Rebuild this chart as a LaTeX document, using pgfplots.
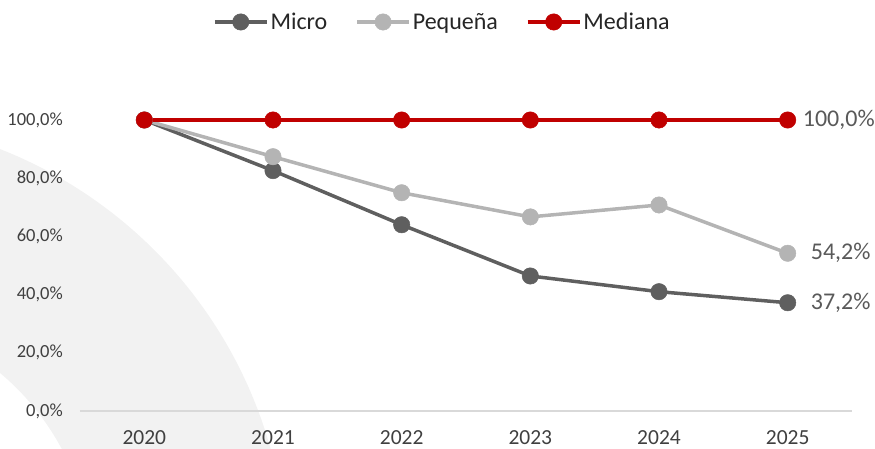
\documentclass[border=0pt]{standalone}
\usepackage{fontspec}
\setmainfont{Carlito}
\usepackage{pgfplots}
\pgfplotsset{compat=1.18}
\definecolor{cmicro}{HTML}{5F5F5F}
\definecolor{cpeq}{HTML}{B4B4B4}
\definecolor{cmed}{HTML}{C00000}
\definecolor{cband}{HTML}{F2F2F2}
\definecolor{caxis}{HTML}{D9D9D9}
\definecolor{ctick}{HTML}{404040}
\definecolor{clab}{HTML}{595959}
\begin{document}
\begin{tikzpicture}[x=1pt,y=1pt]
\useasboundingbox (0,0) rectangle (875,449);
\begin{scope}
\clip (0,0) rectangle (875,449);
\fill[cband,even odd rule] (-165,-121) circle (452) (-165,-121) circle (257);
\end{scope}
\begin{axis}[
  at={(80pt,38pt)}, anchor=south west,
  scale only axis, width=772pt, height=291pt,
  xmin=-0.5, xmax=5.5, ymin=0, ymax=100,
  clip=false,
  axis y line*=left, axis x line*=bottom,
  y axis line style={draw=none},
  x axis line style={draw=caxis, line width=1.5pt},
  major tick length=0pt,
  xtick={0,1,2,3,4,5},
  xticklabels={2020,2021,2022,2023,2024,2025},
  ytick={0,20,40,60,80,100},
  yticklabels={{0,0\%},{20,0\%},{40,0\%},{60,0\%},{80,0\%},{100,0\%}},
  xticklabel style={font=\fontsize{21.5}{25}\selectfont, text=ctick, inner sep=0pt, anchor=north, yshift=-19pt},
  yticklabel style={font=\fontsize{18.5}{22}\selectfont, text=ctick, inner sep=0pt, anchor=east, xshift=-17pt},
  legend columns=3,
  legend style={draw=none, fill=none, at={(0.1723,1.3368)}, anchor=west, inner sep=0pt, outer sep=0pt,
    font=\fontsize{24}{28}\selectfont, text=black!85,
    /tikz/every even column/.append style={column sep=26pt}},
  legend image code/.code={\draw[mark repeat=2,mark phase=2] plot coordinates {(0pt,0pt) (26pt,0pt) (52pt,0pt)};},
  every axis plot/.append style={line width=3.5pt, mark=*, mark size=8.2pt},
]
\addplot[color=cmicro, mark options={fill=cmicro, line width=0.5pt}] coordinates {(0,100) (1,82.6) (2,64.0) (3,46.4) (4,41.0) (5,37.2)};
\addlegendentry{Micro}
\addplot[color=cpeq, mark options={fill=cpeq, line width=0.5pt}] coordinates {(0,100) (1,87.4) (2,75.0) (3,66.7) (4,70.8) (5,54.2)};
\addlegendentry{Pequeña}
\addplot[color=cmed, mark options={fill=cmed, line width=0.5pt}] coordinates {(0,100) (1,100) (2,100) (3,100) (4,100) (5,100)};
\addlegendentry{Mediana}
\node[anchor=west, font=\fontsize{24}{28}\selectfont, text=clab, inner sep=0pt, xshift=15pt] at (axis cs:5,100) {100,0\%};
\node[anchor=west, font=\fontsize{24}{28}\selectfont, text=clab, inner sep=0pt, xshift=23pt] at (axis cs:5,54.2) {54,2\%};
\node[anchor=west, font=\fontsize{24}{28}\selectfont, text=clab, inner sep=0pt, xshift=23pt] at (axis cs:5,37.2) {37,2\%};
\end{axis}
\end{tikzpicture}
\end{document}
